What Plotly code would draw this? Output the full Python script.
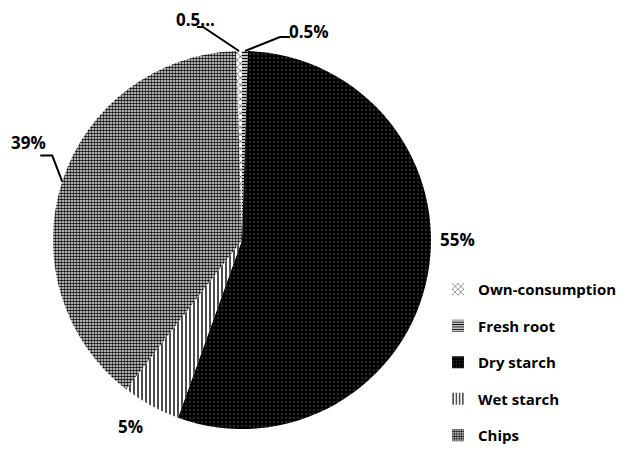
import math
import plotly.graph_objects as go

# Cassava root use, share of output (%)
labels = ["Own-consumption", "Fresh root", "Dry starch", "Wet starch", "Chips"]
shares = [0.5, 0.5, 55, 5, 39]
# Excel-style label truncation for the narrow slice at the top
truncated = [True, False, False, False, False]

# Fill patterns per slice
pattern_shape = ["x", "-", ".", "|", "."]
pattern_fg = ["#444444", "#000000", "#6a6a6a", "#000000", "#000000"]
pattern_bg = ["#ffffff", "#ffffff", "#000000", "#ffffff", "#ffffff"]
pattern_size = [5, 3, 4, 4, 3]
pattern_solidity = [0.25, 0.5, 0.1, 0.35, 0.6]

W, H = 622, 449
CX, CY, R = 242, 240, 189  # pie centre and radius in pixels

FONT = "Open Sans"


def to_paper(px, py):
    return px / W, 1 - py / H


def pattern(i):
    return dict(
        shape=pattern_shape[i],
        fgcolor=pattern_fg[i],
        bgcolor=pattern_bg[i],
        size=pattern_size[i],
        solidity=pattern_solidity[i],
        fillmode="replace",
    )


total = sum(shares)
rotation = -360 * shares[0] / total  # first slice ends at 12 o'clock

fig = go.Figure()
fig.add_trace(
    go.Pie(
        labels=labels,
        values=shares,
        sort=False,
        direction="clockwise",
        rotation=rotation,
        textinfo="none",
        hoverinfo="label+percent",
        showlegend=False,
        marker=dict(
            colors=pattern_bg,
            line=dict(width=0),
            pattern=dict(
                shape=pattern_shape,
                fgcolor=pattern_fg,
                bgcolor=pattern_bg,
                size=pattern_size,
                solidity=pattern_solidity,
                fillmode="replace",
            ),
        ),
        domain=dict(
            x=[(CX - R) / W, (CX + R) / W],
            y=[1 - (CY + R) / H, 1 - (CY - R) / H],
        ),
    )
)

# Legend entries (one group per category so the entries can be spaced out)
for i, lab in enumerate(labels):
    fig.add_trace(
        go.Bar(
            x=[None], y=[None], name=lab, legendgroup=lab,
            marker=dict(color=pattern_bg[i], line=dict(width=0), pattern=pattern(i)),
            hoverinfo="skip",
        )
    )

# Label placement: text offset from the slice's outer mid-point, plus optional leader elbow
label_offset = [(-44, -32), (64, -20), (30, -36), (-20, 21), (-34, -39)]
leader = [
    [(-36, -24), (-42, -24)],
    [(35, -14), (45, -14)],
    None,
    None,
    [(-10, -26), (-22, -26)],
]

annotations = []
shapes = []
start = rotation
for i, v in enumerate(shares):
    sweep = 360 * v / total
    mid = math.radians(start + sweep / 2)
    start += sweep
    ex = CX + R * math.sin(mid)
    ey = CY - R * math.cos(mid)
    txt = f"{v:g}%"
    if truncated[i]:
        txt = f"{v:g}..."
    dx, dy = label_offset[i]
    ax, ay = to_paper(ex + dx, ey + dy)
    annotations.append(
        dict(
            x=ax, y=ay, xref="paper", yref="paper",
            text=f"<b>{txt}</b>", showarrow=False,
            xanchor="center", yanchor="middle",
            font=dict(family=FONT, size=17, color="#000000"),
        )
    )
    if leader[i]:
        pts = [(ex, ey)] + [(ex + ox, ey + oy) for ox, oy in leader[i]]
        path = "M " + " L ".join(
            f"{to_paper(px, py)[0]:.5f},{to_paper(px, py)[1]:.5f}" for px, py in pts
        )
        shapes.append(
            dict(type="path", path=path, xref="paper", yref="paper",
                 line=dict(color="#000000", width=2))
        )

fig.update_layout(
    width=W,
    height=H,
    margin=dict(l=0, r=0, t=0, b=0, autoexpand=False),
    paper_bgcolor="#ffffff",
    plot_bgcolor="#ffffff",
    xaxis=dict(visible=False),
    yaxis=dict(visible=False),
    annotations=annotations,
    shapes=shapes,
    showlegend=True,
    legend=dict(
        x=438 / W,
        y=1 - 273 / H,
        xanchor="left",
        yanchor="top",
        itemwidth=30,
        tracegroupgap=14,
        font=dict(family=FONT, size=15, color="#000000", weight="bold"),
        bgcolor="rgba(0,0,0,0)",
    ),
)

fig.write_html("out.html")
